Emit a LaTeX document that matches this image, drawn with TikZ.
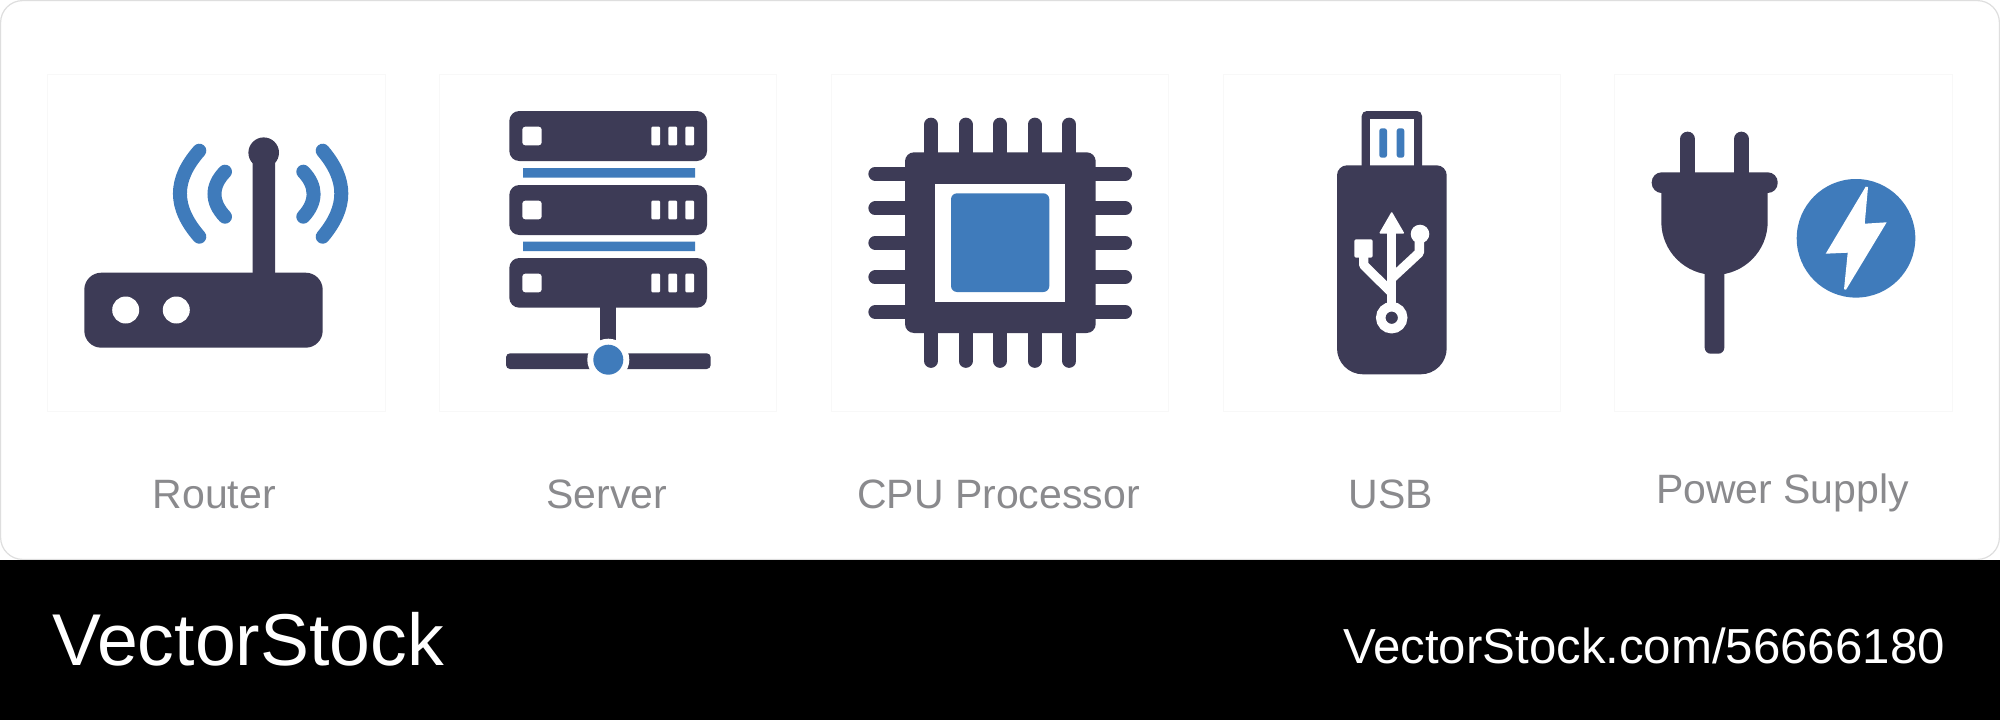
\documentclass[tikz,border=0pt]{standalone}
\usepackage{fontspec}
\usepackage{xcolor}
\setmainfont{Liberation Sans}
\definecolor{iconnavy}{HTML}{3D3B56}
\definecolor{iconblue}{HTML}{3F7BBB}
\definecolor{labelgray}{HTML}{8A8A8D}
\definecolor{framegray}{HTML}{F8F8F8}
\definecolor{cardgray}{HTML}{DEDEDE}
\tikzset{
	wave/.style={draw=iconblue, line width=14pt, line cap=round},
	pin/.style={draw=iconnavy, line width=13.7pt, line cap=round},
	usbline/.style={draw=white, line width=9.4pt, line join=round},
	iconframe/.style={draw=framegray, line width=1pt},
	iconlabel/.style={inner sep=0pt, anchor=base, text=labelgray, font=\fontsize{41}{48}\selectfont}
}

\begin{document}
\begin{tikzpicture}[x=1pt,y=-1pt]
	\useasboundingbox (0,0) rectangle (2000,720);
	\fill[white] (0,0) rectangle (2000,720);
	\draw[cardgray, line width=1.2pt, rounded corners=22pt] (0.6,0.6) rectangle (1999.4,559.4);
	\fill[black] (0,560) rectangle (2000,720);

	\draw[iconframe] (47.3,74.3) rectangle (385.7,411.7)
		(439.3,74.3) rectangle (776.7,411.7)
		(831.3,74.3) rectangle (1168.7,411.7)
		(1223.3,74.3) rectangle (1560.7,411.7)
		(1614.3,74.3) rectangle (1952.3,411.7);

	% router
	\fill[iconnavy, rounded corners=17pt] (84.3,272.7) rectangle (322.7,347.7);
	\fill[iconnavy] (252.7,152.7) rectangle (275,280) (263.7,152.7) circle[radius=15.3pt];
	\fill[white] (125.7,310) circle[radius=13.5pt] (176.3,310) circle[radius=13.5pt];
	\draw[wave] (199.3,150.7) .. controls (173.5,180) and (173.5,207) .. (199.3,236.7);
	\draw[wave] (322.7,150.7) .. controls (347.5,180) and (347.5,207) .. (322.7,236.7);
	\draw[wave] (225,171.7) .. controls (211,186) and (211,202) .. (225,216.7);
	\draw[wave] (303.3,171.7) .. controls (317,186) and (317,202) .. (303.3,216.7);

	% server
	\fill[iconnavy, rounded corners=10pt] (509.3,111) rectangle (707,161)
		(509.3,185) rectangle (707,235)
		(509.3,258) rectangle (707,307.7);
	\fill[iconblue] (523,168) rectangle (695,177.7) (523,241.7) rectangle (695,251);
	\fill[white, rounded corners=3pt] (522.3,126.7) rectangle (541.7,145.3)
		(522.3,200.7) rectangle (541.7,219.3)
		(522.3,273.7) rectangle (541.7,292.3);
	\fill[white, rounded corners=1pt] (651.3,126.7) rectangle (660,145.3)
		(668.3,126.7) rectangle (677,145.3)
		(685.3,126.7) rectangle (694,145.3)
		(651.3,200.7) rectangle (660,219.3)
		(668.3,200.7) rectangle (677,219.3)
		(685.3,200.7) rectangle (694,219.3)
		(651.3,273.7) rectangle (660,292.3)
		(668.3,273.7) rectangle (677,292.3)
		(685.3,273.7) rectangle (694,292.3);
	\fill[iconnavy] (600.3,305) rectangle (616,345);
	\fill[iconnavy, rounded corners=4pt] (506,353.3) rectangle (710.7,369);
	\fill[white] (608.3,359.7) circle[radius=21pt];
	\fill[iconblue] (608.3,359.7) circle[radius=15pt];

	% cpu
	\draw[pin] (931,124.5) -- (931,361) (965.7,124.5) -- (965.7,361) (1000,124.5) -- (1000,361)
		(1034.7,124.5) -- (1034.7,361) (1069.3,124.5) -- (1069.3,361);
	\draw[pin] (875.2,173.7) -- (1125.2,173.7) (875.2,208.3) -- (1125.2,208.3) (875.2,242.7) -- (1125.2,242.7)
		(875.2,277.3) -- (1125.2,277.3) (875.2,312) -- (1125.2,312);
	\fill[iconnavy, rounded corners=9pt] (905,152.3) rectangle (1095.7,333);
	\fill[white] (935.3,183.7) rectangle (1064.7,302);
	\fill[iconblue, rounded corners=6pt] (951,193.3) rectangle (1049.3,292);

	% usb
	\fill[iconnavy, rounded corners=5pt] (1361.7,111) rectangle (1422,180);
	\fill[white] (1370,119.3) rectangle (1414,170);
	\fill[iconblue, rounded corners=2.5pt] (1379.3,128.3) rectangle (1387,157.7) (1396.7,128.3) rectangle (1404.3,157.7);
	\fill[iconnavy, rounded corners=26pt] (1337,270) -- (1337,374.3) -- (1446.7,374.3) -- (1446.7,270)
		[rounded corners=10pt] -- (1446.7,165.3) -- (1337,165.3) -- cycle;
	\draw[usbline] (1391.7,230) -- (1391.7,305);
	\fill[white, rounded corners=1pt] (1391.7,211.5) -- (1404.5,233.5) -- (1379,233.5) -- cycle;
	\draw[usbline] (1363.7,250) -- (1363.7,265) -- (1391.7,292.7);
	\draw[usbline] (1419.3,240) -- (1419.3,252.7) -- (1391.7,278.3);
	\fill[white, rounded corners=1.5pt] (1354.3,239.3) rectangle (1372.7,257.7);
	\fill[white] (1420,234) circle[radius=9.3pt];
	\draw[white, line width=9.4pt] (1391.7,317.7) circle[radius=11pt];

	% plug
	\draw[pin, line width=14.7pt] (1687.7,139) -- (1687.7,180) (1741.3,139) -- (1741.3,180);
	\fill[iconnavy, rounded corners=10pt] (1651.7,172.3) rectangle (1777.7,193);
	\fill[iconnavy] (1661.3,185) -- (1661.3,221.7) .. controls (1661.3,251.1) and (1685.1,274.9) .. (1714.5,274.9)
		.. controls (1743.9,274.9) and (1767.7,251.1) .. (1767.7,221.7) -- (1767.7,185) -- cycle;
	\fill[iconnavy, rounded corners=6pt] (1704.7,260) rectangle (1724.3,353.7);
	\fill[iconblue] (1856,238.3) circle[radius=59.3pt];
	\fill[white] (1865.7,186.7) -- (1868,187) -- (1864.7,223.7) -- (1886.7,222.3)
		-- (1846,289.7) -- (1844,289.3) -- (1847.7,252.7) -- (1825.7,253.7) -- cycle;

	\draw (214.3,508.3) node[iconlabel] (routerlabel) {Router}
		(607,508.3) node[iconlabel] (serverlabel) {Server}
		(998.5,508.3) node[iconlabel] (cpulabel) {CPU Processor}
		(1391,508.3) node[iconlabel] (usblabel) {USB}
		(1782.5,503.8) node[iconlabel] (powerlabel) {Power Supply};
	\draw (52,665) node[inner sep=0pt, anchor=base west, text=white, font=\fontsize{73.4}{80}\selectfont] (brand) {VectorStock}
		(1945,663.2) node[inner sep=0pt, anchor=base east, text=white, font=\fontsize{49.2}{56}\selectfont] (brandurl) {VectorStock.com/56666180};
\end{tikzpicture}
\end{document}
